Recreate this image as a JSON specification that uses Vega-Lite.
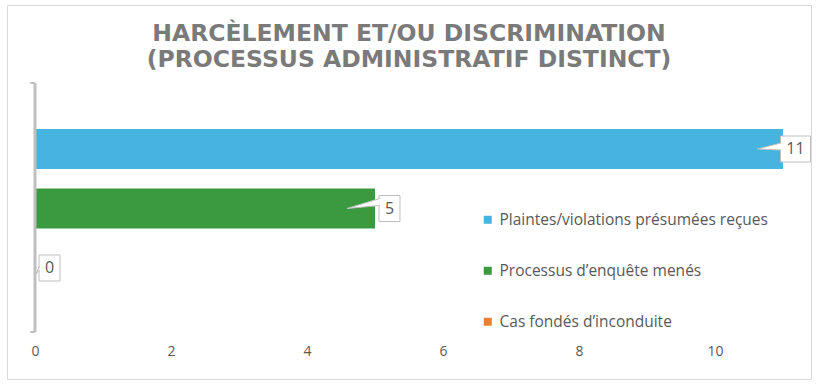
{
  "$schema": "https://vega.github.io/schema/vega-lite/v6.json",
  "autosize": {"type": "none"},
  "padding": {"left": 7, "top": 5, "right": 6, "bottom": 6},
  "width": 804,
  "height": 374,
  "background": "white",
  "config": {
    "view": {"stroke": "#d9d9d9", "strokeWidth": 1},
    "font": "Open Sans"
  },
  "title": {
    "text": ["HARCÈLEMENT ET/OU DISCRIMINATION", "(PROCESSUS ADMINISTRATIF DISTINCT)"],
    "font": "DejaVu Sans",
    "fontWeight": "bold",
    "fontSize": 23.5,
    "color": "#7a7a7a",
    "lineHeight": 26,
    "anchor": "middle",
    "frame": "group",
    "offset": -66
  },
  "data": {
    "values": [
      {"serie": "Plaintes/violations présumées reçues", "valeur": 11},
      {"serie": "Processus d’enquête menés", "valeur": 5},
      {"serie": "Cas fondés d’inconduite", "valeur": 0}
    ]
  },
  "layer": [
    {
      "mark": {"type": "bar"},
      "encoding": {
        "x": {
          "field": "valeur", "type": "quantitative",
          "scale": {"domain": [-0.4118, 11.412], "nice": false, "zero": false},
          "axis": {
            "values": [0, 2, 4, 6, 8, 10], "format": "d", "title": null, "domain": false, "ticks": false, "tickSize": 0,
            "grid": false, "labelColor": "#595959", "labelFontSize": 14, "labelFont": "Open Sans",
            "offset": -35, "labelPadding": 0
          }
        },
        "y": {
          "field": "serie", "type": "nominal", "sort": null,
          "scale": {"range": [124, 283], "paddingInner": 0.3277, "paddingOuter": 0, "round": false},
          "axis": null
        },
        "color": {
          "field": "serie", "type": "nominal", "sort": null,
          "scale": {
            "domain": ["Plaintes/violations présumées reçues", "Processus d’enquête menés", "Cas fondés d’inconduite"],
            "range": ["#45b5e0", "#3a9a40", "#ED7D31"]
          },
          "legend": {
            "title": null, "orient": "none", "legendX": 473, "legendY": 207,
            "symbolType": "square", "symbolSize": 64, "symbolStrokeWidth": 0,
            "labelColor": "#595959", "labelFontSize": 15.5, "labelFont": "Open Sans", "labelLimit": 500,
            "rowPadding": 34, "labelOffset": 4
          }
        }
      }
    },
    {
      "transform": [{"filter": "datum.valeur < 10"}],
      "mark": {"type": "rect", "fill": "white", "stroke": "#bfbfbf", "strokeWidth": 1, "xOffset": 4, "x2Offset": 25, "height": 26},
      "encoding": {
        "x": {"field": "valeur", "type": "quantitative"},
        "x2": {"field": "valeur"},
        "y": {"field": "serie", "type": "nominal", "sort": null}
      }
    },
    {
      "transform": [{"filter": "datum.valeur >= 10"}],
      "mark": {"type": "rect", "fill": "white", "stroke": "#bfbfbf", "strokeWidth": 1, "xOffset": -2.5, "x2Offset": 27.5, "height": 26},
      "encoding": {
        "x": {"field": "valeur", "type": "quantitative"},
        "x2": {"field": "valeur"},
        "y": {"field": "serie", "type": "nominal", "sort": null}
      }
    },
    {
      "mark": {"type": "point", "filled": true, "fill": "white", "stroke": "#bfbfbf", "strokeWidth": 1, "size": 1600, "opacity": 1},
      "encoding": {
        "x": {"field": "valeur", "type": "quantitative"},
        "y": {"field": "serie", "type": "nominal", "sort": null},
        "shape": {
          "field": "valeur", "type": "nominal", "legend": null,
          "scale": {
            "domain": [11, 5, 0],
            "range": ["M-0.1,-0.3L-1.275,0L-0.1,0.05", "M0.23,-0.5L-1.4,0L0.23,-0.15", "M0.23,-0.1L0.05,0.3L0.23,0.1"]
          }
        }
      }
    },
    {
      "transform": [{"filter": "datum.valeur < 10"}],
      "mark": {"type": "text", "dx": 14.5, "align": "center", "baseline": "middle", "fontSize": 16, "color": "#595959", "font": "Open Sans"},
      "encoding": {
        "x": {"field": "valeur", "type": "quantitative"},
        "y": {"field": "serie", "type": "nominal", "sort": null},
        "text": {"field": "valeur", "type": "quantitative"}
      }
    },
    {
      "transform": [{"filter": "datum.valeur >= 10"}],
      "mark": {"type": "text", "dx": 12.5, "align": "center", "baseline": "middle", "fontSize": 16, "color": "#595959", "font": "Open Sans"},
      "encoding": {
        "x": {"field": "valeur", "type": "quantitative"},
        "y": {"field": "serie", "type": "nominal", "sort": null},
        "text": {"field": "valeur", "type": "quantitative"}
      }
    },
    {
      "data": {"values": [{}]},
      "mark": {"type": "rule", "color": "#bfbfbf", "strokeWidth": 3},
      "encoding": {
        "x": {"datum": 0, "type": "quantitative"},
        "y": {"datum": "Plaintes/violations présumées reçues", "type": "nominal", "bandPosition": -1.15},
        "y2": {"datum": "Cas fondés d’inconduite", "bandPosition": 2.1}
      }
    },
    {
      "data": {"values": [{}]},
      "mark": {"type": "rule", "color": "#bfbfbf", "strokeWidth": 2},
      "encoding": {
        "x": {"datum": -0.07, "type": "quantitative"},
        "x2": {"datum": 0},
        "y": {"datum": "Plaintes/violations présumées reçues", "type": "nominal", "bandPosition": -1.15}
      }
    },
    {
      "data": {"values": [{}]},
      "mark": {"type": "rule", "color": "#bfbfbf", "strokeWidth": 2},
      "encoding": {
        "x": {"datum": -0.07, "type": "quantitative"},
        "x2": {"datum": 0},
        "y": {"datum": "Cas fondés d’inconduite", "type": "nominal", "bandPosition": 2.1}
      }
    }
  ]
}
